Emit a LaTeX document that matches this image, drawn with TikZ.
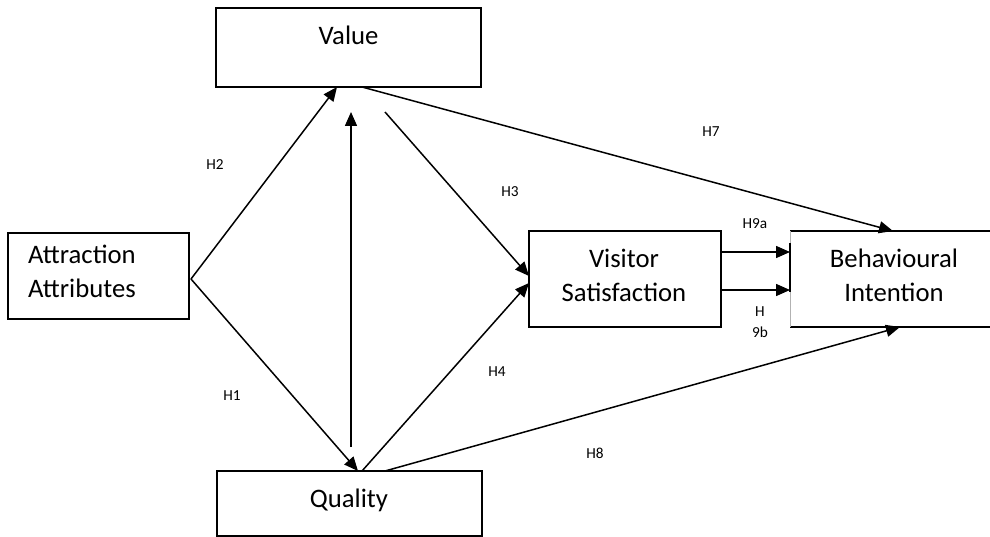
\documentclass[tikz,border=0pt]{standalone}
\usepackage{fontspec}
\setmainfont{Carlito}
\usetikzlibrary{arrows.meta,calc}
\begin{document}
\begin{tikzpicture}[x=1pt,y=-1pt,
  box/.style={draw, line width=1.6pt, outer sep=0pt, inner sep=0pt},
  big/.style={font=\fontsize{26.7}{34}\selectfont, inner sep=0pt, align=center},
  hlab/.style={font=\fontsize{15.3}{21}\selectfont, inner sep=0pt, align=center},
  arr/.style={line width=1.5pt, -{Triangle[length=14pt,width=12pt]}}]
\useasboundingbox (0,0) rectangle (990,537);
\fill[white] (0,0) rectangle (990,537);

% boxes
\node[box, minimum width=265pt, minimum height=79pt, anchor=north west] (value) at (216,8) {};
\node[big, anchor=base] (valuet) at (348.5,45) {Value};
\node[box, minimum width=265pt, minimum height=65pt, anchor=north west] (quality) at (217,471) {};
\node[big, anchor=base] (qualityt) at (349,507) {Quality};
\node[box, minimum width=181pt, minimum height=86pt, anchor=north west] (attr) at (8,233) {};
\node[big, align=left, anchor=west] (attrt) at (28,271) {Attraction\\Attributes};
\node[box, minimum width=192pt, minimum height=96pt, anchor=north west] (vs) at (529,231) {};
\node[big] (vst) at (624,275) {Visitor\\Satisfaction};
\node[outer sep=0pt, inner sep=0pt, minimum width=200pt, minimum height=96pt, anchor=north west] (bi) at (790,231) {};
\draw[line width=1.6pt] (bi.north west) -- (bi.north east) (bi.south west) -- (bi.south east);
\draw[gray!60, line width=0.6pt] (bi.north west) -- (bi.south west);
\draw[line width=1.5pt] ($(bi.north west)+(0,12)$) -- ($(bi.north west)+(0,61)$);
\node[big] (bit) at (894,275) {Behavioural\\Intention};

% free ends
\coordinate (apex) at (191,279);
\coordinate (vtop) at (351,112);
\coordinate (vbot) at (351,447);
\coordinate (h3s) at (385,112);

% connectors
\draw[arr] (apex) -- ($(value.south)+(-11.5,0)$);
\draw[arr] (apex) -- ($(quality.north)+(8.5,0)$);
\draw[arr] (vbot) -- (vtop);
\draw[arr] (h3s) -- ($(vs.west)+(0,-3)$);
\draw[arr] ($(quality.north)+(12.5,0)$) -- ($(vs.west)+(0,4)$);
\draw[arr] ($(value.south)+(13.5,0)$) -- ($(bi.north west)+(103,0)$);
\draw[arr] ($(quality.north)+(35.5,0)$) -- ($(bi.south west)+(110,0)$);
\draw[arr] ($(vs.north east)+(0,21)$) -- ($(bi.north west)+(0,21)$);
\draw[arr] ($(vs.north east)+(0,59)$) -- ($(bi.north west)+(0,59)$);

% labels
\node[hlab] (h2) at (215,165) {H2};
\node[hlab] (h1) at (232,396) {H1};
\node[hlab] (h3) at (510,192) {H3};
\node[hlab] (h7) at (711,132) {H7};
\node[hlab] (h9a) at (755,224) {H9a};
\node[hlab] (h4) at (497,372) {H4};
\node[hlab] (h8) at (595,453) {H8};
\node[hlab] (h9b) at (760,322.5) {H\\9b};
\end{tikzpicture}
\end{document}
